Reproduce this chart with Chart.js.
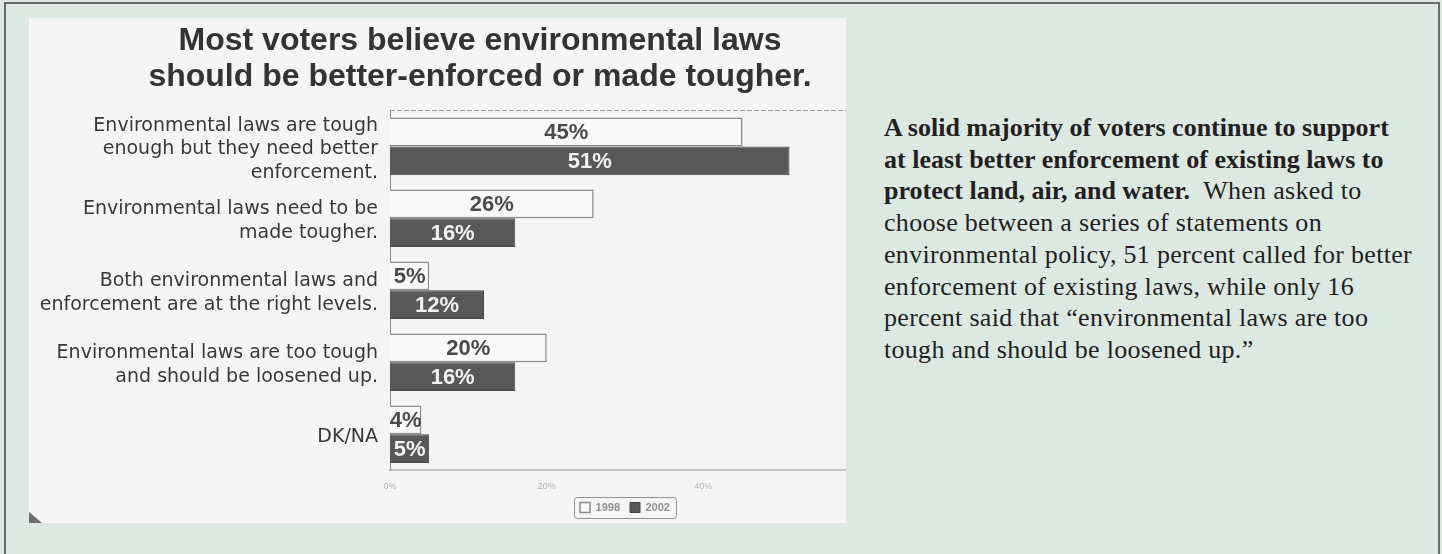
<!DOCTYPE html>
<html>
<head>
<meta charset="utf-8">
<title>Environmental laws</title>
<script src="https://cdn.jsdelivr.net/npm/chart.js@4.4.0/dist/chart.umd.min.js"></script>
<style>
  html, body { margin: 0; padding: 0; }
  body { width: 1442px; height: 554px; overflow: hidden; position: relative; background: #dce9e3; }
  .panel { position: absolute; left: 4px; top: 2px; width: 1432px; height: 620px; border: 2px solid #6a6a6a; background: #dce9e3; }
  .chart-wrap { position: absolute; left: 29px; top: 18px; width: 817px; height: 505px; overflow: hidden; background: #f5f5f5; }
  .chart-box { position: relative; width: 902px; height: 505px; filter: blur(0.5px); }
  .corner { position: absolute; left: 0; bottom: 0; width: 13px; height: 11px; background: #4a4a4a; clip-path: polygon(0 0, 100% 100%, 0 100%); opacity: 0.8; }
  .note { position: absolute; left: 884px; top: 112px; font-family: "Liberation Serif", "Times New Roman", serif; font-size: 26px; line-height: 31.7px; letter-spacing: 0.3px; color: #231f20; white-space: nowrap; }
  .note b { font-weight: bold; letter-spacing: 0; }
</style>
</head>
<body>
<div class="panel"></div>
<div class="chart-wrap">
  <div class="chart-box"><canvas id="grafico"></canvas></div>
  <div class="corner"></div>
</div>
<div class="note">
  <b>A solid majority of voters continue to support</b><br>
  <b>at least better enforcement of existing laws to</b><br>
  <b>protect land, air, and water.</b>&nbsp; When asked to<br>
  choose between a series of statements on<br>
  environmental policy, 51 percent called for better<br>
  enforcement of existing laws, while only 16<br>
  percent said that “environmental laws are too<br>
  tough and should be loosened up.”
</div>

<script>
// Categorias e valores (em %)
const categorias = [
    ['Environmental laws are tough', 'enough but they need better', 'enforcement.'],
    ['Environmental laws need to be', 'made tougher.'],
    ['Both environmental laws and', 'enforcement are at the right levels.'],
    ['Environmental laws are too tough', 'and should be loosened up.'],
    'DK/NA'
];
const anos = ['1998', '2002'];
const valores1998 = [45, 26, 5, 20, 4];
const valores2002 = [51, 16, 12, 16, 5];
const ticksX = [0, 20, 40, 60];

const titulo = ['Most voters believe environmental laws', 'should be better-enforced or made tougher.'];

// Escreve o valor no meio de cada barra
const rotulosBarras = {
    id: 'rotulosBarras',
    afterDatasetsDraw(chart) {
        const ctx = chart.ctx;
        ctx.save();
        ctx.font = 'bold 22px "Liberation Sans", Arial, sans-serif';
        ctx.textAlign = 'center';
        ctx.textBaseline = 'middle';
        chart.data.datasets.forEach((ds, i) => {
            const meta = chart.getDatasetMeta(i);
            meta.data.forEach((barra, j) => {
                ctx.fillStyle = ds.corRotulo;
                ctx.fillText(ds.data[j] + '%', (barra.x + barra.base) / 2, barra.y + 1);
            });
        });
        ctx.restore();
    }
};

// Linha tracejada no topo do gráfico e moldura da legenda
const moldura = {
    id: 'moldura',
    afterDraw(chart) {
        const { ctx, chartArea, legend } = chart;
        ctx.save();
        ctx.strokeStyle = '#9a9a9a';
        ctx.lineWidth = 1;
        ctx.setLineDash([5, 2]);
        ctx.beginPath();
        ctx.moveTo(chartArea.left, Math.round(chartArea.top) + 0.5);
        ctx.lineTo(chart.width, Math.round(chartArea.top) + 0.5);
        ctx.stroke();

        const caixas = legend.legendHitBoxes;
        if (caixas && caixas.length) {
            const esq = Math.min(...caixas.map(c => c.left)) - 6;
            const dir = Math.max(...caixas.map(c => c.left + c.width)) + 6;
            const topo = Math.min(...caixas.map(c => c.top)) - 5;
            const base = Math.max(...caixas.map(c => c.top + c.height)) + 5;
            ctx.setLineDash([]);
            ctx.strokeStyle = '#8f8f8f';
            ctx.beginPath();
            ctx.roundRect(Math.round(esq) + 0.5, Math.round(topo) + 0.5, Math.round(dir - esq), Math.round(base - topo), 3);
            ctx.stroke();
        }
        ctx.restore();
    }
};

function criarGrafico() {
    const ctx = document.getElementById('grafico').getContext('2d');
    new Chart(ctx, {
        type: 'bar',
        data: {
            labels: categorias,
            datasets: [
                {
                    label: anos[0],
                    data: valores1998,
                    backgroundColor: '#f9f9f9',
                    borderColor: '#8a8a8a',
                    borderWidth: 1.5,
                    corRotulo: '#4a4a4a'
                },
                {
                    label: anos[1],
                    data: valores2002,
                    backgroundColor: '#585858',
                    borderColor: '#474747',
                    borderWidth: 1,
                    corRotulo: '#f2f2f2'
                }
            ]
        },
        options: {
            indexAxis: 'y',
            responsive: true,
            maintainAspectRatio: false,
            animation: false,
            categoryPercentage: 0.8,
            barPercentage: 1.0,
            layout: {
                padding: 0
            },
            scales: {
                x: {
                    min: ticksX[0],
                    max: ticksX[ticksX.length - 1],
                    afterBuildTicks: (scale) => {
                        scale.ticks = ticksX.map(v => ({ value: v }));
                    },
                    afterFit: (scale) => { scale.height -= 11; },
                    ticks: {
                        callback: (v) => v + '%',
                        color: '#b3b3b3',
                        padding: 11,
                        font: { size: 9, family: '"Liberation Sans", Arial, sans-serif' }
                    },
                    grid: { display: false, drawTicks: false },
                    border: { display: true, color: '#c6c6c6', width: 2 }
                },
                y: {
                    afterFit: (scale) => { scale.width = 361; },
                    ticks: {
                        autoSkip: false,
                        color: '#383838',
                        padding: 12,
                        labelOffset: 3,
                        font: { size: 19, family: '"DejaVu Sans", sans-serif', lineHeight: 1.25 }
                    },
                    grid: { display: false, drawTicks: false },
                    border: { display: true, color: '#8a8a8a', width: 1 }
                },
                // eixo vazio à direita, só para reservar a margem da imagem
                margemDireita: {
                    type: 'category',
                    position: 'right',
                    afterFit: (scale) => { scale.width = 71; },
                    ticks: { display: false },
                    grid: { display: false, drawTicks: false },
                    border: { display: false }
                }
            },
            plugins: {
                title: {
                    display: true,
                    text: titulo,
                    color: '#333333',
                    font: { size: 32, weight: 'bold', family: '"Liberation Sans", Arial, sans-serif', lineHeight: 1.1 },
                    padding: { top: 6, bottom: 16 }
                },
                legend: {
                    position: 'bottom',
                    fullSize: false,
                    labels: {
                        color: '#8f8f8f',
                        boxWidth: 10,
                        boxHeight: 10,
                        padding: 10,
                        font: { size: 11, weight: 'bold', family: '"Liberation Sans", Arial, sans-serif' }
                    }
                },
                tooltip: { enabled: false }
            }
        },
        plugins: [rotulosBarras, moldura]
    });
}

document.addEventListener('DOMContentLoaded', criarGrafico);
</script>
</body>
</html>
